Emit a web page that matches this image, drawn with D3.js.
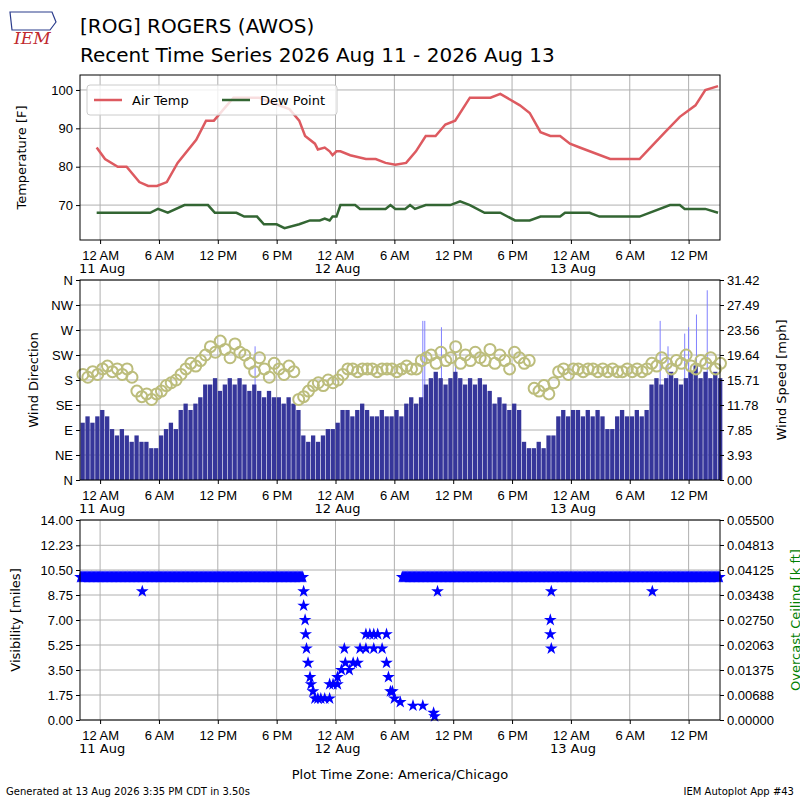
<!DOCTYPE html>
<html><head><meta charset="utf-8">
<script src="https://cdn.jsdelivr.net/npm/d3@7"></script>
<style>body{margin:0;background:#fff}svg{font-family:"DejaVu Sans",sans-serif}</style>
</head><body><svg id="c" width="800" height="800"></svg>
<script>
// hours since 2026-08-11 00:00 CDT
const tempHours=[-0.35,0.5,1.8,2.7,4.0,4.9,5.8,6.8,7.9,9.8,10.8,11.6,12.6,13.6,16.2,17.2,19.3,20.3,20.9,21.9,22.2,22.9,23.4,23.7,24.1,24.5,25.5,27.1,28.1,29.1,30.1,31.2,32.2,33.2,34.2,35.2,36.2,37.7,39.8,40.8,42.8,43.8,44.9,45.9,46.9,47.9,48.9,52.0,55.0,56.1,57.6,59.1,60.7,61.7,63.0];
const tempVals=[85,82,80,80,76,75,75,76,81,87,92,92,95,98,98,97,95,92,88,86,84.5,85,84,83,84,84,83,82,82,81,80.5,81,84,88,88,91,92,98,98,99,96,94,89,88,88,86,85,82,82,85,89,93,96,100,101];
const dewHours=[-0.35,5.1,5.9,6.9,8.6,11.0,11.7,13.9,14.7,16.0,16.7,18.0,18.8,20.3,21.4,22.4,22.9,23.4,23.7,24.1,24.5,26.0,26.5,29.1,29.6,30.1,31.1,31.6,32.1,33.2,35.7,36.7,37.7,39.2,40.8,42.3,43.8,44.9,46.9,47.4,49.9,50.9,55.0,58.1,59.1,59.6,61.7,63.0];
const dewVals=[68,68,69,68,70,70,68,68,67,67,65,65,64,65,66,66,66.5,66,67,67,70,70,69,69,70,69,69,70,69,70,70,71,70,68,68,66,66,67,67,68,68,67,67,70,70,69,69,68];
// wind every half hour from -2.0 h
const windStart=-2.0;
const windSpeed=[9,10,9,10, 11,10, 8,7,8, 7,6,7,6,6, 5,5, 7,8,9,8, 11,12,11,12,13, 15,15,16,14,15,16,15, 16,15,14,15,14,13,14,13, 13,12,13,12,11, 7,6,7,6,7, 8,8,9, 11,11,10,11,12,11, 10,10,11,10,10,11,10, 12,13,12,13, 15,16,17,16,15,16,17,16,15,16,15,16,15,14, 12,13,12,11,12,11, 6,5,5,6,5, 7,7, 10,11,10,11,11,10,11,10,11,10, 8,8, 10,11,10,10,11,10,11, 15,16,15,16,17,16,15,16,17,18,16,17,16,17,16];
const windDir=[190,185,195,190, 200,205,195,200,190,200,185, 160,150,155,145,155,160, 170,175,180,190, 200,210,205,215, 225,240,230,250,235,220,245,230,225, 210,195,220,200,185,210,200,190,205,195, 145,150,160, 170,175,170,180,175,180,190, 200,200,195,200,200,200,195,200,200,200,195,200,205,200,200, 215,220,225,210,230,215,220,240,210,225,215,230,220,215,235,210,225,215,200,230,220,210,215, 165,160,170,155,175, 195,200,190,200,200,195,200,200,195,200,195,200, 195,195,200,195,200,195,200, 210,205,220,210,200,215,210,225,205,200,215,210,220,200,210];
const gustHours=[15.8,32.9,33.1,34.8,36.25,57.1,57.9,59.6,60.0,60.8,61.9];
const gustVals=[21,25,25,24,20,25,21,23,24,26,29.8];
// visibility: 10 mi observed across these spans (5-min obs), plus individual reads
const visTenSpans=[[-2.0,20.7],[30.8,63.2]];
const visHours=[4.3,20.75,20.75,20.9,20.96,21.04,21.2,21.4,21.5,21.7,21.9,22.2,22.5,22.9,23.4,23.4,23.75,24.2,24.2,24.6,24.9,25.0,25.4,25.8,26.25,26.5,27.1,27.5,27.9,28.3,27.1,27.9,28.75,29.2,29.2,29.4,29.6,29.8,30.0,30.6,31.9,32.9,34.0,34.1,34.4,45.9,45.9,46.0,46.0,56.3];
const visVals=[9,9,8,7,6,5,4,3,2.5,2,1.5,1.5,1.5,1.5,2.5,1.5,2.5,3,2.5,3.5,5,4,3.5,4,4,5,6,6,6,6,5,5,5,4,6,3,2,2,1.5,1.25,1,1,0.5,0.25,9,7,6,5,9,9];
const tempTicks=[70,80,90,100];
const dirLabels=["N","NE","E","SE","S","SW","W","NW","N"];
const speedTicks=["0.00","3.93","7.85","11.78","15.71","19.64","23.56","27.49","31.42"];
const visTicks=["0.00","1.75","3.50","5.25","7.00","8.75","10.50","12.23","14.00"];
const ceilTicks=["0.00000","0.00688","0.01375","0.02063","0.02750","0.03438","0.04125","0.04813","0.05500"];

const svg=d3.select("#c");
const L=80,R=720;
const t0=Date.UTC(2026,7,11);
const toD=h=>new Date(t0+h*3600e3);
const x=d3.scaleUtc().domain([toD(-2.05),toD(63.2)]).range([L,R]);
const tickDates=d3.range(0,64,6).map(toD);
const hrFmt=d=>{const h=d.getUTCHours();return (h%12===0?12:h%12)+(h<12?" AM":" PM");};

function panel(top,bot){
  svg.append("rect").attr("x",L).attr("y",top).attr("width",R-L).attr("height",bot-top).attr("fill","#fff");
  const g=svg.append("g");
  tickDates.forEach(d=>g.append("line").attr("x1",x(d)).attr("x2",x(d)).attr("y1",top).attr("y2",bot).attr("stroke","#b0b0b0").attr("stroke-width",1));
  const ax=svg.append("g").attr("transform",`translate(0,${bot})`).call(d3.axisBottom(x).tickValues(tickDates).tickFormat(hrFmt).tickSize(4));
  ax.selectAll("text").attr("font-size",13).attr("fill","#000").attr("dy","1.0em");
  ax.select(".domain").remove();
  tickDates.forEach(d=>{ if(d.getUTCHours()===0) svg.append("text").attr("x",x(d)-21).attr("y",bot+33).attr("font-size",13).text(d3.utcFormat("%d %b")(d)); });
  return g;
}
function frame(top,bot){svg.append("rect").attr("x",L).attr("y",top).attr("width",R-L).attr("height",bot-top).attr("fill","none").attr("stroke","#000").attr("stroke-width",1);}
function ylab(txt,cx,cy,col){svg.append("text").attr("transform",`translate(${cx},${cy}) rotate(-90)`).attr("text-anchor","middle").attr("font-size",13).attr("fill",col||"#000").text(txt);}
function leftAxis(scale,vals,fmt){const a=svg.append("g").attr("transform",`translate(${L},0)`).call(d3.axisLeft(scale).tickValues(vals).tickFormat(fmt).tickSize(4));a.select(".domain").remove();a.selectAll("text").attr("font-size",13);}
function rightAxis(scale,vals,fmt){const a=svg.append("g").attr("transform",`translate(${R},0)`).call(d3.axisRight(scale).tickValues(vals).tickFormat(fmt).tickSize(4));a.select(".domain").remove();a.selectAll("text").attr("font-size",13);}
function hgrid(g,scale,vals){vals.forEach(v=>g.append("line").attr("x1",L).attr("x2",R).attr("y1",scale(v)).attr("y2",scale(v)).attr("stroke","#b0b0b0"));}

// header
svg.append("text").attr("x",14).attr("y",44).attr("font-family","DejaVu Serif").attr("font-style","italic").attr("font-size",17).attr("fill","#c0282d").text("IEM");
svg.append("path").attr("d","M10,12 L52,12 L56,22 L50,30 L12,30 Z").attr("fill","none").attr("stroke","#2b3c8c").attr("stroke-width",1.2);
svg.append("text").attr("x",80).attr("y",33).attr("font-size",20).text("[ROG] ROGERS (AWOS)");
svg.append("text").attr("x",80).attr("y",62).attr("font-size",20).text("Recent Time Series 2026 Aug 11 - 2026 Aug 13");

// panel 1
const T1=75,B1=240;
const yT=d3.scaleLinear().domain([60.9,103.9]).range([B1,T1]);
const g1=panel(T1,B1); hgrid(g1,yT,tempTicks);
leftAxis(yT,tempTicks,d3.format("d"));
const line=d3.line().x(d=>x(toD(d[0]))).y(d=>yT(d[1]));
g1.append("path").datum(tempHours.map((h,i)=>[h,tempVals[i]])).attr("d",line).attr("fill","none").attr("stroke","#dd5a60").attr("stroke-width",2.5);
g1.append("path").datum(dewHours.map((h,i)=>[h,dewVals[i]])).attr("d",line).attr("fill","none").attr("stroke","#336633").attr("stroke-width",2.5);
frame(T1,B1);
ylab("Temperature [F]",26,(T1+B1)/2);
const lg=svg.append("g");
lg.append("rect").attr("x",87).attr("y",85).attr("width",250).attr("height",30).attr("rx",3).attr("fill","#fff").attr("fill-opacity",0.8).attr("stroke","#ccc");
lg.append("line").attr("x1",94).attr("x2",122).attr("y1",100).attr("y2",100).attr("stroke","#dd5a60").attr("stroke-width",2.5);
lg.append("text").attr("x",132).attr("y",105).attr("font-size",13).text("Air Temp");
lg.append("line").attr("x1",222).attr("x2",250).attr("y1",100).attr("y2",100).attr("stroke","#336633").attr("stroke-width",2.5);
lg.append("text").attr("x",260).attr("y",105).attr("font-size",13).text("Dew Point");

// panel 2
const T2=280,B2=480;
const yDir=d3.scaleLinear().domain([0,360]).range([B2,T2]);
const ySpd=d3.scaleLinear().domain([0,31.42]).range([B2,T2]);
const g2=panel(T2,B2); hgrid(g2,yDir,d3.range(0,361,45));
const wh=windSpeed.map((v,i)=>windStart+i*0.5);
const bw=x(toD(0.5))-x(toD(0));
gustHours.forEach((h,i)=>g2.append("line").attr("x1",x(toD(h))).attr("x2",x(toD(h))).attr("y1",ySpd(0)).attr("y2",ySpd(gustVals[i])).attr("stroke","#8080ff").attr("stroke-width",1));
g2.selectAll("rect.b").data(windSpeed).join("rect").attr("x",(d,i)=>x(toD(wh[i]))).attr("width",bw-0.6).attr("y",d=>ySpd(d)).attr("height",d=>ySpd(0)-ySpd(d)).attr("fill","#36369a");
g2.selectAll("circle").data(windDir).join("circle").attr("cx",(d,i)=>x(toD(wh[i]+0.25))).attr("cy",d=>yDir(d)).attr("r",5.5).attr("fill","none").attr("stroke","#bcbd7c").attr("stroke-width",2);
frame(T2,B2);
leftAxis(yDir,d3.range(0,361,45),(d,i)=>dirLabels[i]);
rightAxis(ySpd,speedTicks.map(Number),(d,i)=>speedTicks[i]);
ylab("Wind Direction",38,(T2+B2)/2);
ylab("Wind Speed [mph]",786,(T2+B2)/2);

// panel 3
const T3=520,B3=720;
const yV=d3.scaleLinear().domain([0,14]).range([B3,T3]);
const yC=d3.scaleLinear().domain([0,0.055]).range([B3,T3]);
const g3=panel(T3,B3); hgrid(g3,yV,visTicks.map(Number));
const star=d3.symbol().type(d3.symbolStar).size(50);
const tenPts=[];visTenSpans.forEach(s=>{for(let h=s[0];h<=s[1];h+=1/12)tenPts.push([h,10]);});
const allVis=tenPts.concat(visHours.map((h,i)=>[h,visVals[i]]));
g3.selectAll("path.s").data(allVis).join("path").attr("transform",d=>`translate(${x(toD(d[0]))},${yV(d[1])})`).attr("d",star).attr("fill","#0000ff");
frame(T3,B3);
leftAxis(yV,visTicks.map(Number),(d,i)=>visTicks[i]);
rightAxis(yC,ceilTicks.map(Number),(d,i)=>ceilTicks[i]);
ylab("Visibility [miles]",20,(T3+B3)/2);
ylab("Overcast Ceiling [k ft]",800,620,"green");
svg.append("text").attr("x",400).attr("y",779).attr("text-anchor","middle").attr("font-size",13).text("Plot Time Zone: America/Chicago");
svg.append("text").attr("x",6).attr("y",795).attr("font-size",10).text("Generated at 13 Aug 2026 3:35 PM CDT in 3.50s");
svg.append("text").attr("x",794).attr("y",795).attr("text-anchor","end").attr("font-size",10).text("IEM Autoplot App #43");
</script></body></html>
